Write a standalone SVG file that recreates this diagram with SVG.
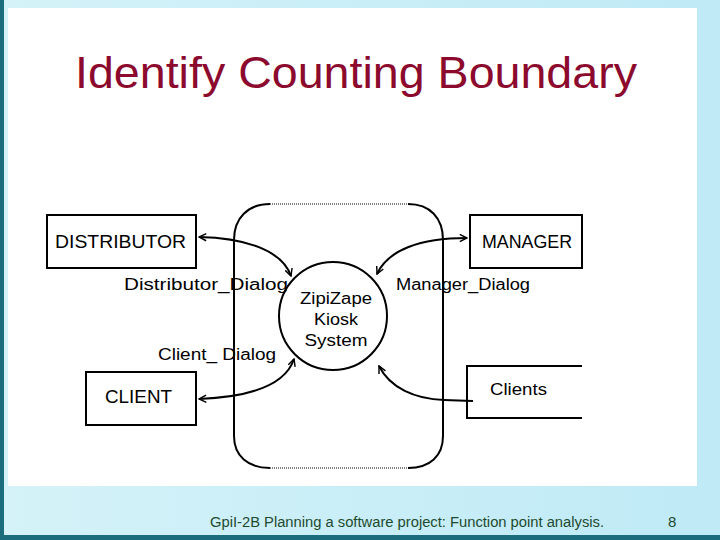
<svg xmlns="http://www.w3.org/2000/svg" width="720" height="540" viewBox="0 0 720 540">
<defs>
<linearGradient id="bg" x1="0" y1="0" x2="1" y2="0">
<stop offset="0" stop-color="#d4f2f8"/>
<stop offset="1" stop-color="#bfeaf6"/>
</linearGradient>
<marker id="ah" viewBox="0 0 10 10" refX="9" refY="5" markerWidth="9" markerHeight="9" markerUnits="userSpaceOnUse" orient="auto-start-reverse">
<path d="M1,1 L9,5 L1,9" fill="none" stroke="#000" stroke-width="1.6"/>
</marker>
</defs>
<style>
.lbl{font-family:"Comic Sans MS","Liberation Sans",sans-serif;fill:#000}
.box{fill:none;stroke:#000;stroke-width:2}
.con{fill:none;stroke:#000;stroke-width:2}
.dot{fill:none;stroke:#000;stroke-width:1;stroke-dasharray:1 1}
</style>
<rect x="0" y="0" width="720" height="540" fill="url(#bg)"/>
<rect x="8" y="8" width="689" height="478" fill="#fff"/>
<rect x="0" y="0" width="4" height="540" fill="#1b6d7d"/>
<rect x="0" y="535" width="720" height="5" fill="#1b6d7d"/>
<text x="75" y="88" class="lbl" font-size="44" fill="#8c0a2e" style="fill:#8c0a2e" textLength="562" lengthAdjust="spacingAndGlyphs">Identify Counting Boundary</text>

<g id="boundary">
<path class="box" d="M270,204 C248,204 234,218 234,240 L234,436 C234,456 248,468 270,468"/>
<path class="box" d="M408,204 C430,204 443,218 443,240 L443,436 C443,456 430,468 408,468"/>
<line class="dot" x1="270" y1="204" x2="408" y2="204"/>
<line class="dot" x1="270" y1="468" x2="408" y2="468"/>
</g>

<g id="system">
<circle cx="333" cy="316" r="54" class="box"/>
<text x="336" y="304" class="lbl" font-size="16" text-anchor="middle" textLength="72" lengthAdjust="spacingAndGlyphs">ZipiZape</text>
<text x="336" y="325" class="lbl" font-size="16" text-anchor="middle" textLength="44" lengthAdjust="spacingAndGlyphs">Kiosk</text>
<text x="336" y="346" class="lbl" font-size="16" text-anchor="middle" textLength="63" lengthAdjust="spacingAndGlyphs">System</text>
</g>

<g id="distributor">
<rect x="47" y="215" width="149" height="53" class="box"/>
<text x="55" y="248" class="lbl" font-size="18" textLength="131" lengthAdjust="spacingAndGlyphs">DISTRIBUTOR</text>
</g>

<g id="manager">
<rect x="470" y="215" width="112" height="53" class="box"/>
<text x="482" y="248" class="lbl" font-size="18" textLength="90" lengthAdjust="spacingAndGlyphs">MANAGER</text>
</g>

<g id="client">
<rect x="86" y="372" width="110" height="53" class="box"/>
<text x="105" y="403" class="lbl" font-size="18" textLength="67" lengthAdjust="spacingAndGlyphs">CLIENT</text>
</g>

<g id="clients">
<path class="box" d="M582,366 L467,366 L467,418 L582,418"/>
<text x="490" y="395" class="lbl" font-size="16" textLength="57" lengthAdjust="spacingAndGlyphs">Clients</text>
</g>

<g id="labels">
<text x="124" y="290" class="lbl" font-size="16" textLength="164" lengthAdjust="spacingAndGlyphs">Distributor_Dialog</text>
<text x="158" y="360" class="lbl" font-size="16" textLength="118" lengthAdjust="spacingAndGlyphs">Client_ Dialog</text>
<text x="396" y="290" class="lbl" font-size="16" textLength="134" lengthAdjust="spacingAndGlyphs">Manager_Dialog</text>
</g>

<g id="connectors">
<path class="con" d="M199,237 C245,238 282,250 291,276" marker-start="url(#ah)" marker-end="url(#ah)"/>
<path class="con" d="M377,274 C388,250 420,238 467,238" marker-start="url(#ah)" marker-end="url(#ah)"/>
<path class="con" d="M199,399 C250,397 285,386 294,359" marker-start="url(#ah)" marker-end="url(#ah)"/>
<path class="con" d="M473,401 L444,400 C415,399 390,388 379,366" marker-end="url(#ah)"/>
</g>

<g id="footer">
<text x="210" y="527" class="lbl" font-size="14" style="fill:#1d4a30" textLength="394" lengthAdjust="spacingAndGlyphs">GpiI-2B Planning a software project: Function point analysis.</text>
<text x="668" y="527" class="lbl" font-size="15" style="fill:#1d4a30">8</text>
</g>
</svg>
